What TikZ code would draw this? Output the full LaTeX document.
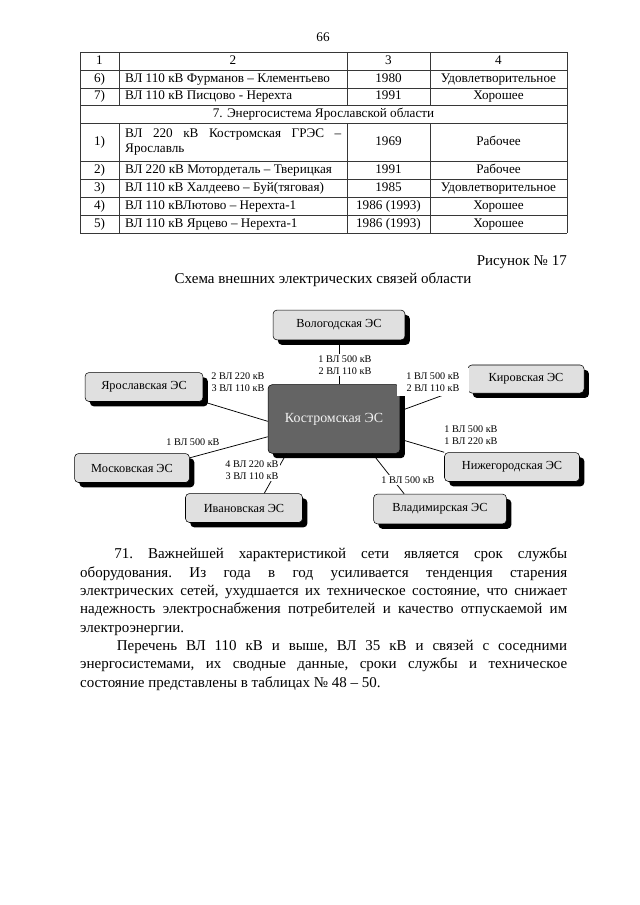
\documentclass[tikz,border=0pt]{standalone}
\usepackage{fontspec}
\setmainfont{Liberation Serif}
\usetikzlibrary{positioning, shadows, calc}
\definecolor{boxgray}{RGB}{224,224,224}
\definecolor{kosgray}{RGB}{100,100,100}
\definecolor{rulegray}{RGB}{55,55,55}

\begin{document}
\begin{tikzpicture}[
  x=0.328125mm, y=-0.328125mm,
  cell/.style={font=\fontsize{12.3}{13.8}\selectfont, inner sep=0pt, text height=8.6pt, text depth=2.6pt},
  rule/.style={draw=rulegray, line width=0.6pt},
  es/.style={draw, rounded corners=1.3mm, fill=boxgray, line width=0.5pt, inner sep=0pt,
    font=\fontsize{11.5}{13}\selectfont,
    drop shadow={shadow xshift=1.6mm, shadow yshift=-1.6mm, fill=black, opacity=1}},
  kosbox/.style={es, fill=kosgray, text=gray!10, font=\fontsize{13}{15}\selectfont},
  lbl/.style={fill=white, inner sep=1.5pt, align=center, font=\fontsize{9.5}{11.5}\selectfont},
  conn/.style={line width=0.7pt},
  body/.style={font=\fontsize{14}{17.1}\selectfont\frenchspacing, inner sep=0pt, align=left}
]
  \fill[white] (0,0) rectangle (640,905);
  \useasboundingbox (0,0) rectangle (640,905);

  \node[cell] (page) at (323,38) {66};

  \foreach \y in {52,70,88,105,123,161,179,197,215,233} {
    \draw[rule] (80,\y) -- (567,\y);
  }
  \draw[rule] (80,52) -- (80,233);
  \draw[rule] (567,52) -- (567,233);
  \foreach \x in {119,347,430} {
    \draw[rule] (\x,52) -- (\x,105);
    \draw[rule] (\x,123) -- (\x,233);
  }

  \foreach \c/\x/\lab in {1/99.5/1,2/233/2,3/388.5/3,4/498.5/4} {
    \node[cell] (h\c) at (\x,61) {\lab};
  }
  \foreach \i/\y/\num/\line/\yr/\st in {
    a6/79/{6)}/{ВЛ 110 кВ Фурманов – Клементьево}/1980/Удовлетворительное,
    a7/96.5/{7)}/{ВЛ 110 кВ Писцово - Нерехта}/1991/Хорошее,
    b2/170/{2)}/{ВЛ 220 кВ Мотордеталь – Тверицкая}/1991/Рабочее,
    b3/188/{3)}/{ВЛ 110 кВ Халдеево – Буй(тяговая)}/1985/Удовлетворительное,
    b4/206/{4)}/{ВЛ 110 кВЛютово – Нерехта-1}/{1986 (1993)}/Хорошее,
    b5/224/{5)}/{ВЛ 110 кВ Ярцево – Нерехта-1}/{1986 (1993)}/Хорошее} {
    \node[cell] (num\i) at (99.5,\y) {\num};
    \node[cell, anchor=west] (line\i) at (125,\y) {\line};
    \node[cell] (yr\i) at (388.5,\y) {\yr};
    \node[cell] (st\i) at (498.5,\y) {\st};
  }
  \node[cell] (sect) at (323.5,114) {7. Энергосистема Ярославской области};
  \node[cell] (numb1) at (99.5,142) {1)};
  \node[font=\fontsize{12.3}{13.8}\selectfont, inner sep=0pt, anchor=west, align=left] (lineb1) at (125,142)
    {\hbox to 70.9mm{ВЛ 220 кВ Костромская ГРЭС –}\\%
     Ярославль};
  \node[cell] (yrb1) at (388.5,142) {1969};
  \node[cell] (stb1) at (498.5,142) {Рабочее};

  \node[body, anchor=east] (fignum) at (567,262) {Рисунок № 17};
  \node[body] (figtitle) at (323,280) {Схема внешних электрических связей области};

  \node[es, minimum width=43.3mm, minimum height=9.8mm] (vol) at (339,325) {Вологодская ЭС};
  \node[kosbox, minimum width=43.3mm, minimum height=22.5mm] (kos) at (334,419) {Костромская ЭС};
  \node[es, minimum width=38.7mm, minimum height=9.5mm] (yar) at (144,387) {Ярославская ЭС};
  \node[es, minimum width=38.1mm, minimum height=9.2mm] (kir) at (526,379) {Кировская ЭС};
  \node[es, minimum width=37.7mm, minimum height=9.5mm] (mos) at (132,468) {Московская ЭС};
  \node[es, minimum width=44.3mm, minimum height=9.5mm] (niz) at (512,467) {Нижегородская ЭС};
  \node[es, minimum width=38.4mm, minimum height=9.5mm] (iva) at (244,508) {Ивановская ЭС};
  \node[es, minimum width=43.6mm, minimum height=9.8mm] (vla) at (440,509) {Владимирская ЭС};

  \draw[conn] (vol.south) -- (vol.south |- kos.north);
  \draw[conn] (yar.south east) -- (kos.182);
  \draw[conn] (mos.10) -- (kos.195);
  \draw[conn] (iva.36) -- (kos.216);
  \draw[conn] (vla.157) -- (kos.318);
  \draw[conn] (kir.187) -- (kos.7);
  \draw[conn] (niz.north west) -- (kos.343);

  \node[lbl] (lvol) at (345,365) {1 ВЛ 500 кВ\\2 ВЛ 110 кВ};
  \node[lbl] (lyar) at (238,382) {2 ВЛ 220 кВ\\3 ВЛ 110 кВ};
  \node[lbl, inner xsep=3mm, inner ysep=1.5mm] (lkir) at (433,382) {1 ВЛ 500 кВ\\2 ВЛ 110 кВ};
  \node[lbl] (lmos) at (193,442) {1 ВЛ 500 кВ};
  \node[lbl] (lniz) at (471,435) {1 ВЛ 500 кВ\\1 ВЛ 220 кВ};
  \node[lbl] (liva) at (252,470) {4 ВЛ 220 кВ\\3 ВЛ 110 кВ};
  \node[lbl] (lvla) at (408,480) {1 ВЛ 500 кВ};

  \node[body, anchor=north west] (text) at (80,548) {%
    \hbox to 159.8mm{\hskip 11.2mm 71. Важнейшей характеристикой сети является срок службы}\\%
    \hbox to 159.8mm{оборудования. Из года в год усиливается тенденция старения}\\%
    \hbox to 159.8mm{электрических сетей, ухудшается их техническое состояние, что снижает}\\%
    \hbox to 159.8mm{надежность электроснабжения потребителей и качество отпускаемой им}\\%
    электроэнергии.\\%
    \hbox to 159.8mm{\hskip 12mm Перечень ВЛ 110 кВ и выше, ВЛ 35 кВ и связей с соседними}\\%
    \hbox to 159.8mm{энергосистемами, их сводные данные, сроки службы и техническое}\\%
    состояние представлены в таблицах № 48 – 50.};
\end{tikzpicture}
\end{document}
